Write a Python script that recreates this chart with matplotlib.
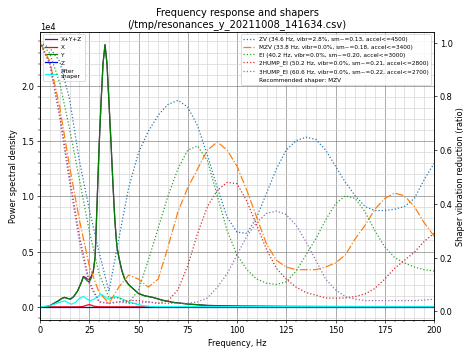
import matplotlib
matplotlib.use("Agg")
import matplotlib.pyplot as plt
import matplotlib.ticker as ticker
import matplotlib.font_manager as fm
import numpy as np

# ---------------- PSD data (values in units of 1e4) ----------------
psd_freqs = [0, 3, 5, 7, 9, 11, 12.5, 14, 15.5, 17, 19, 21, 22, 23, 24, 25, 26, 27,
             28, 29, 30, 31, 32, 33, 34, 35, 36, 37, 38, 39, 40, 41.5, 43, 45, 47.5,
             50, 53, 57.5, 62, 67.5, 75, 85, 100, 125, 150, 200]
psd_y = [0.0, 0.0, 0.01, 0.03, 0.05, 0.075, 0.085, 0.075, 0.07, 0.09, 0.14, 0.22, 0.27,
         0.255, 0.235, 0.225, 0.26, 0.31, 0.45, 0.95, 1.45, 1.85, 2.2, 2.37, 2.2, 1.85,
         1.5, 1.12, 0.78, 0.55, 0.45, 0.33, 0.25, 0.2, 0.16, 0.12, 0.1, 0.084, 0.06,
         0.04, 0.025, 0.012, 0.006, 0.003, 0.002, 0.001]
psd_x = [0.0, 0.0, 0.0, 0.0, 0.0, 0.0, 0.0, 0.0, 0.0, 0.0, 0.0, 0.002, 0.004, 0.01,
         0.016, 0.02, 0.015, 0.008, 0.004, 0.002, 0.0, 0.0, 0.0, 0.0, 0.0, 0.0, 0.0,
         0.0, 0.0, 0.0, 0.0, 0.0, 0.0, 0.0, 0.0, 0.0, 0.0, 0.0, 0.0, 0.0, 0.0, 0.0,
         0.0, 0.0, 0.0, 0.0]
psd_z = [0.001] * len(psd_freqs)
psd_sum = [0.0, 0.001, 0.011, 0.031, 0.051, 0.076, 0.086, 0.076, 0.071, 0.091, 0.141,
           0.223, 0.275, 0.266, 0.252, 0.246, 0.276, 0.319, 0.455, 0.953, 1.451, 1.851,
           2.201, 2.371, 2.201, 1.851, 1.501, 1.121, 0.781, 0.551, 0.451, 0.331, 0.251,
           0.201, 0.161, 0.121, 0.101, 0.085, 0.061, 0.041, 0.026, 0.013, 0.007, 0.004,
           0.003, 0.002]

after_freqs = [0, 5, 9, 12.5, 14.5, 16, 18, 20, 22, 23.5, 25.5, 28, 31, 33, 34.7, 36.5,
               38, 40, 43, 46, 49, 52, 56, 60, 200]
after_shaper = [0.0, 0.01, 0.035, 0.054, 0.035, 0.024, 0.04, 0.075, 0.093, 0.075, 0.054,
                0.075, 0.114, 0.09, 0.07, 0.085, 0.093, 0.085, 0.06, 0.04, 0.024, 0.012,
                0.004, 0.002, 0.001]

# ---------------- Shaper responses ----------------
shaper_freqs = list(range(0, 201, 5))
zv = [1.00, 0.98, 0.93, 0.79, 0.56, 0.38, 0.22, 0.075, 0.27, 0.46, 0.59, 0.67, 0.73,
      0.77, 0.785, 0.76, 0.69, 0.58, 0.46, 0.35, 0.295, 0.29, 0.35, 0.44, 0.53, 0.60,
      0.635, 0.648, 0.64, 0.60, 0.54, 0.48, 0.43, 0.39, 0.375, 0.375, 0.38, 0.39, 0.42,
      0.49, 0.55]
mzv = [1.00, 0.93, 0.76, 0.54, 0.34, 0.17, 0.07, 0.03, 0.09, 0.135, 0.12, 0.09, 0.12,
       0.24, 0.37, 0.46, 0.53, 0.60, 0.63, 0.60, 0.54, 0.45, 0.35, 0.25, 0.19, 0.165,
       0.155, 0.155, 0.155, 0.165, 0.18, 0.21, 0.27, 0.32, 0.38, 0.42, 0.44, 0.43, 0.39,
       0.33, 0.28]
ei = [1.00, 0.96, 0.85, 0.68, 0.49, 0.30, 0.14, 0.05, 0.05, 0.03, 0.08, 0.19, 0.31,
      0.43, 0.53, 0.60, 0.615, 0.56, 0.43, 0.30, 0.21, 0.155, 0.12, 0.105, 0.10, 0.11,
      0.15, 0.21, 0.27, 0.34, 0.40, 0.43, 0.42, 0.37, 0.30, 0.24, 0.20, 0.18, 0.165,
      0.155, 0.15]
hump2 = [1.00, 0.92, 0.73, 0.50, 0.28, 0.11, 0.035, 0.03, 0.035, 0.04, 0.04, 0.035, 0.03,
         0.04, 0.08, 0.17, 0.29, 0.39, 0.45, 0.48, 0.475, 0.41, 0.32, 0.23, 0.16, 0.12,
         0.09, 0.07, 0.06, 0.05, 0.049, 0.05, 0.055, 0.065, 0.085, 0.12, 0.16, 0.19, 0.22,
         0.26, 0.29]
hump3 = [1.00, 0.92, 0.72, 0.48, 0.26, 0.10, 0.035, 0.03, 0.035, 0.03, 0.03, 0.035, 0.03,
         0.03, 0.03, 0.03, 0.035, 0.05, 0.09, 0.14, 0.21, 0.28, 0.33, 0.365, 0.373, 0.36,
         0.32, 0.26, 0.19, 0.12, 0.08, 0.055, 0.045, 0.04, 0.04, 0.04, 0.04, 0.04, 0.04,
         0.042, 0.045]

shaper_names = ["ZV", "MZV", "EI", "2HUMP_EI", "3HUMP_EI"]
shaper_hz = [34.6, 33.8, 40.2, 50.2, 60.6]
shaper_vibr = [2.8, 0.0, 0.0, 0.0, 0.0]
shaper_sm = [0.13, 0.18, 0.20, 0.21, 0.22]
shaper_accel = [4500, 3400, 3000, 2800, 2700]
shaper_vals = [zv, mzv, ei, hump2, hump3]
selected = "MZV"

fig, ax = plt.subplots(figsize=(8, 6), dpi=59.25)
fontP = fm.FontProperties()
fontP.set_size('x-small')

scale = 1e4
ax.set_xlabel('Frequency, Hz')
ax.set_xlim([0, 200])
ax.set_ylabel('Power spectral density')
ax.plot(psd_freqs, np.array(psd_sum) * scale, label='X+Y+Z', color='purple')
ax.plot(psd_freqs, np.array(psd_x) * scale, label='X', color='red')
ax.plot(psd_freqs, np.array(psd_y) * scale, label='Y', color='green')
ax.plot(psd_freqs, np.array(psd_z) * scale, label='Z', color='blue')

ax.set_title("Frequency response and shapers\n(/tmp/resonances_y_20211008_141634.csv)")
ax.xaxis.set_minor_locator(ticker.MultipleLocator(5))
ax.yaxis.set_minor_locator(ticker.AutoMinorLocator())
ax.ticklabel_format(axis='y', style='scientific', scilimits=(0, 0))
ax.grid(which='major', color='grey')
ax.grid(which='minor', color='lightgrey')

ax2 = ax.twinx()
ax2.set_ylabel('Shaper vibration reduction (ratio)')
for name, hz, vb, sm, acc, vals in zip(shaper_names, shaper_hz, shaper_vibr,
                                      shaper_sm, shaper_accel, shaper_vals):
    label = "%s (%.1f Hz, vibr=%.1f%%, sm~=%.2f, accel<=%d)" % (name, hz, vb, sm, acc)
    ls = 'dashdot' if name == selected else 'dotted'
    ax2.plot(shaper_freqs, vals, label=label, linestyle=ls)
ax.plot(after_freqs, np.array(after_shaper) * scale, label='After\nshaper', color='cyan')
ax2.plot([], [], ' ', label="Recommended shaper: %s" % selected)
ax2.set_ylim(-0.032, 1.041)

ax.legend(loc='upper left', prop=fontP)
ax2.legend(loc='upper right', prop=fontP)

fig.subplots_adjust(left=40 / 474, right=434 / 474, bottom=1 - 320 / 355, top=1 - 32 / 355)
fig.savefig("out.png", dpi=59.25)
